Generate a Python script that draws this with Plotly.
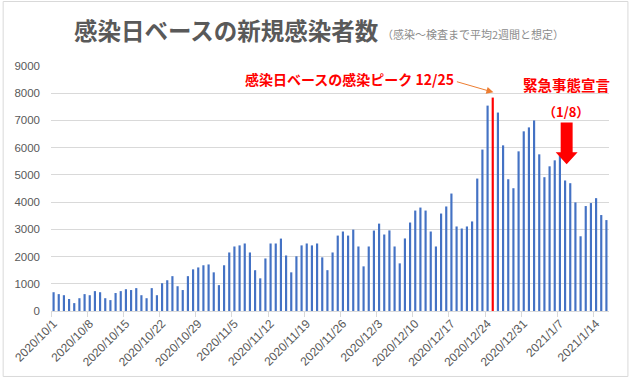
import pandas as pd
import plotly.graph_objects as go

# ---- data ----
dates = pd.date_range("2020-10-01", "2021-01-16", freq="D")
cases = [
    690, 620, 580, 440, 290, 470, 620, 580, 730, 690, 470, 400, 660, 730, 800, 770, 840,
    580, 470, 840, 580, 1020, 1130, 1280, 910, 770, 1280, 1530, 1600, 1680, 1710, 1420, 950,
    1680, 2150, 2370, 2410, 2480, 2150, 1500, 1200, 1930, 2480, 2480, 2660, 2040, 1420,
    2010, 2410, 2480, 2410, 2480, 1970, 1500, 2150, 2770, 2920, 2770, 2990, 2370, 1640,
    2370, 2955, 3210,
    2810, 2960, 2370, 1750, 2665, 3250, 3690, 3800, 3690, 2920, 2370, 3580, 3840, 4315,
    3105, 3030, 3105, 3290, 4865, 5930, 7545, 7840, 7290,
    6085, 4840, 4510, 5865, 6600, 6745, 7000, 5755, 4915, 5315, 5535, 5750, 4795, 4695,
    3990, 2745, 3855, 3965, 4145, 3525, 3340,
]
tick_dates = ["2020-10-01", "2020-10-08", "2020-10-15", "2020-10-22", "2020-10-29",
              "2020-11-05", "2020-11-12", "2020-11-19", "2020-11-26", "2020-12-03",
              "2020-12-10", "2020-12-17", "2020-12-24", "2020-12-31", "2021-01-07",
              "2021-01-14"]
tick_labels = ["2020/10/1", "2020/10/8", "2020/10/15", "2020/10/22", "2020/10/29",
               "2020/11/5", "2020/11/12", "2020/11/19", "2020/11/26", "2020/12/3",
               "2020/12/10", "2020/12/17", "2020/12/24", "2020/12/31", "2021/1/7",
               "2021/1/14"]
peak_date = pd.Timestamp("2020-12-25")

BLUE = "#4472C4"
RED = "#FF0000"
colors = [RED if d == peak_date else BLUE for d in dates]

W, H = 631, 381
L, R, T, B = 49, 22, 66, 68
PW, PH = W - L - R, H - T - B


def px(x):
    return (x - L) / PW


def py(y):
    return (H - B - y) / PH


JP = "Noto Sans CJK JP"
NUM = "Liberation Sans"

fig = go.Figure(go.Bar(x=dates, y=cases, marker_color=colors, marker_line_width=0))

fig.update_layout(
    width=W, height=H,
    margin=dict(l=L, r=R, t=T, b=B),
    paper_bgcolor="white", plot_bgcolor="white",
    bargap=0.58, showlegend=False,
    font=dict(family=NUM, color="#595959"),
)
fig.update_xaxes(
    range=["2020-09-30 12:00", "2021-01-16 12:00"],
    tickmode="array", tickvals=tick_dates, ticktext=tick_labels,
    tickangle=-45, tickfont=dict(size=12, color="#595959", family=NUM),
    ticks="", showgrid=False,
    showline=True, linecolor="#d9d9d9", linewidth=1,
    minor=dict(ticks="outside", ticklen=5, tickcolor="#d9d9d9",
               tick0="2020-09-30 12:00", dtick=7 * 86400000, showgrid=False),
)
fig.update_yaxes(
    range=[0, 9000], dtick=1000, tick0=0,
    showgrid=True, gridcolor="#d9d9d9", gridwidth=1,
    zeroline=False, ticks="", ticklabelstandoff=10,
    tickfont=dict(size=11.5, color="#595959", family=NUM),
)

shapes = [
    dict(type="rect", xref="paper", yref="paper",
         x0=px(1), x1=px(628), y0=py(1), y1=py(379),
         line=dict(color="#d9d9d9", width=1), layer="below"),
    dict(type="path", xref="paper", yref="paper",
         path="M {a},{b} L {c},{b} L {c},{d} L {e},{d} L {f},{g} L {h},{d} L {i},{d} L {i},{b} Z".format(
             a=px(560.5), b=py(123), c=px(572.5), d=py(153), e=px(577.5),
             f=px(566.5), g=py(165), h=px(555.5), i=px(560.5)),
         fillcolor=RED, line=dict(width=0)),
]
fig.update_layout(shapes=shapes)

ann = [
    dict(text="<b>感染日ベースの新規感染者数</b>", x=px(70), y=py(30),
         font=dict(family=JP, size=23.5, color="#595959")),
    dict(text="（感染～検査まで平均2週間と想定）", x=px(379), y=py(34),
         font=dict(family=JP, size=11, color="#8c8c8c")),
    dict(text="<b>感染日ベースの感染ピーク 12/25</b>", x=px(242), y=py(79),
         font=dict(family=JP, size=14, color=RED)),
    dict(text="<b>緊急事態宣言</b>", x=px(521), y=py(85),
         font=dict(family=JP, size=14.5, color=RED)),
    dict(text="<b>（1/8）</b>", x=px(566), y=py(112), xanchor="center",
         font=dict(family=JP, size=13, color=RED)),
]
for a in ann:
    a.setdefault("xanchor", "left")
    a.update(xref="paper", yref="paper", yanchor="middle", showarrow=False)
ann.append(dict(text="", xref="paper", yref="paper", x=px(493), y=py(92.5),
                showarrow=True, ax=-38, ay=-11, arrowcolor="#ED7D31",
                arrowwidth=1, arrowhead=2, arrowsize=1.4, standoff=0))
fig.update_layout(annotations=ann)

fig.write_html("out.html", config={"displayModeBar": False},
               post_script="document.body.style.margin='0';document.body.style.padding='0';")
